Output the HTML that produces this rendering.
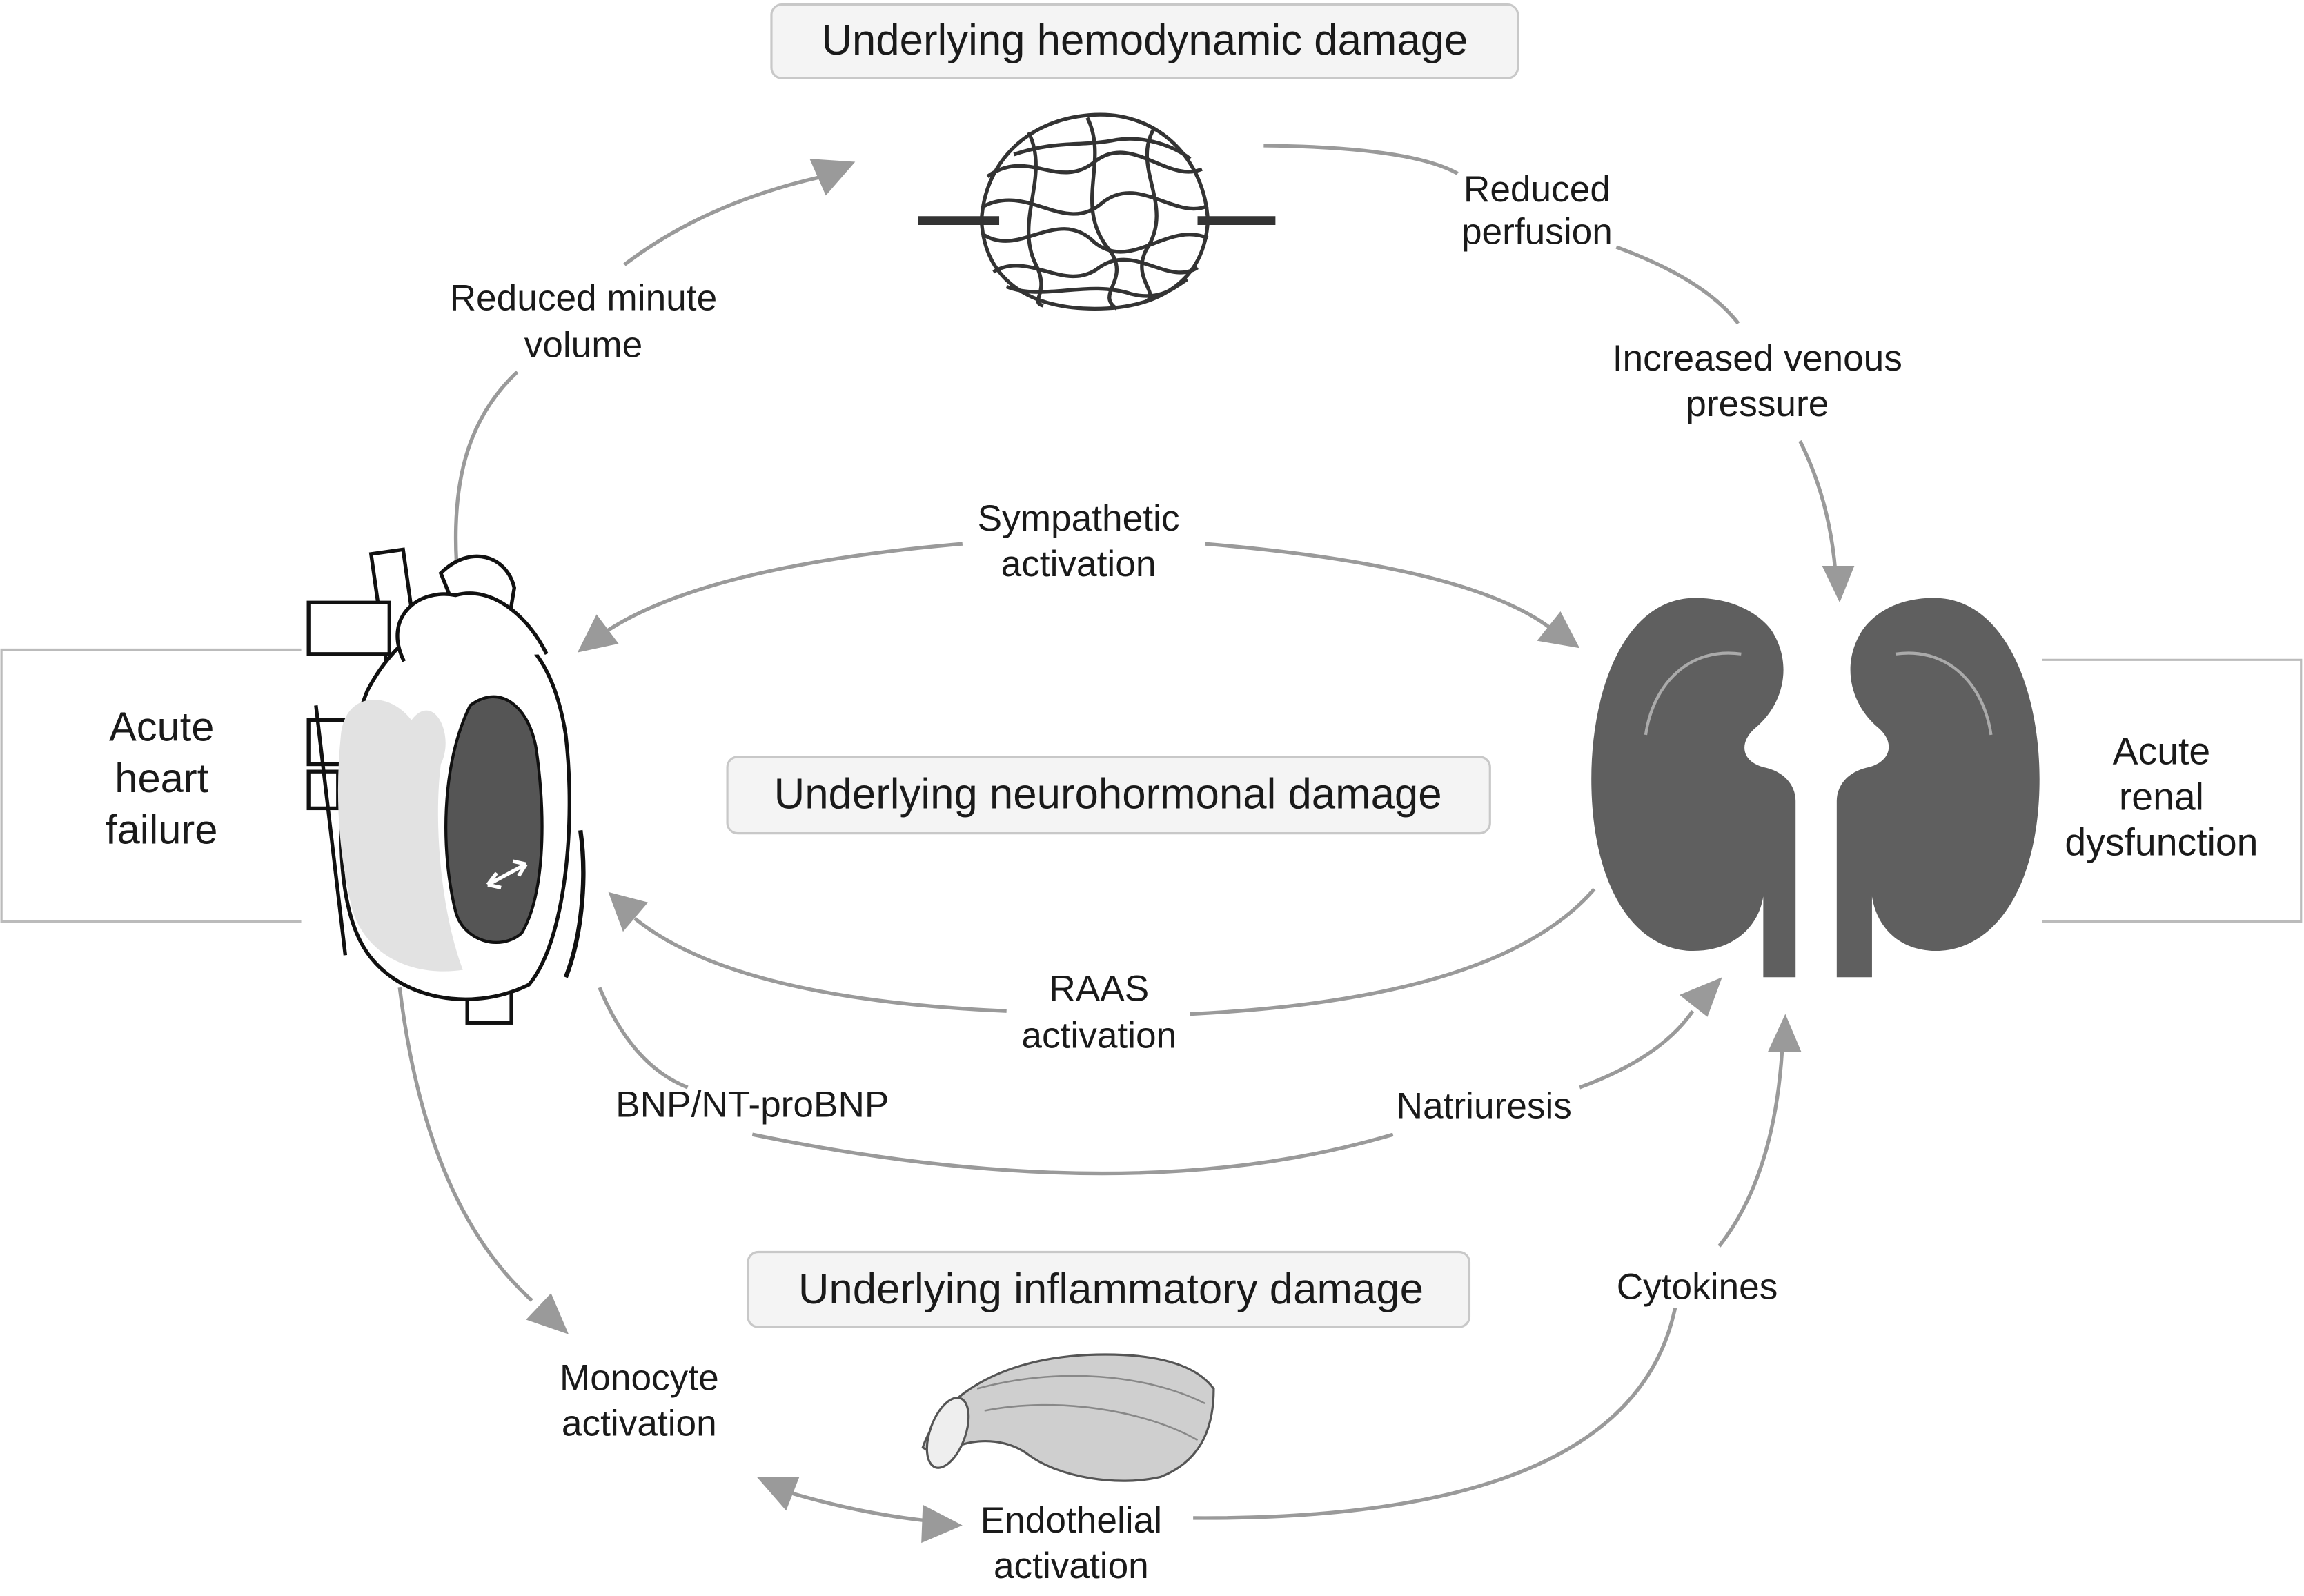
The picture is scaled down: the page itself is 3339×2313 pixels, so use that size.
<!DOCTYPE html>
<html><head><meta charset="utf-8"><style>
html,body{margin:0;padding:0;background:#fff;}
svg{display:block}
text{font-family:"Liberation Sans",sans-serif;fill:#1a1a1a}
</style></head><body>
<svg width="3339" height="2313" viewBox="0 0 1568 1086" xmlns="http://www.w3.org/2000/svg">
<rect width="1568" height="1086" fill="#fff"/>
<!-- boxes -->
<rect x="525" y="3" width="508" height="50" rx="7" fill="#f4f4f4" stroke="#c8c8c8" stroke-width="1.5"/>
<text x="779" y="37" font-size="29" text-anchor="middle">Underlying hemodynamic damage</text>
<rect x="495" y="515" width="519" height="52" rx="7" fill="#f4f4f4" stroke="#c8c8c8" stroke-width="1.5"/>
<text x="754" y="550" font-size="29" text-anchor="middle">Underlying neurohormonal damage</text>
<rect x="509" y="852" width="491" height="51" rx="7" fill="#f4f4f4" stroke="#c8c8c8" stroke-width="1.5"/>
<text x="756" y="887" font-size="29" text-anchor="middle">Underlying inflammatory damage</text>
<!-- brackets -->
<path d="M205,442 H1 V627 H205" fill="none" stroke="#bbb" stroke-width="1.5"/>
<text font-size="28" text-anchor="middle"><tspan x="110" y="504">Acute</tspan><tspan x="110" y="539">heart</tspan><tspan x="110" y="574">failure</tspan></text>
<path d="M1390,449 H1566 V627 H1390" fill="none" stroke="#bbb" stroke-width="1.5"/>
<text font-size="26" text-anchor="middle"><tspan x="1471" y="520">Acute</tspan><tspan x="1471" y="551">renal</tspan><tspan x="1471" y="582">dysfunction</tspan></text>
<!-- connectors -->
<g fill="none" stroke="#9a9a9a" stroke-width="2.5">
<path d="M312,400 C305,330 318,285 352,253"/>
<path d="M425,180 Q480,138 560,120"/>
<path d="M860,99 Q960,100 992,118"/>
<path d="M1100,168 Q1160,190 1183,220"/>
<path d="M1225,300 Q1245,340 1249,388"/>
<path d="M655,370 Q480,385 412,430"/>
<path d="M820,370 Q1000,385 1056,428"/>
<path d="M1085,605 Q1020,680 810,690"/>
<path d="M685,688 Q500,680 432,625"/>
<path d="M408,672 Q430,725 468,740"/>
<path d="M512,772 Q770,825 948,772"/>
<path d="M1075,740 Q1130,720 1152,688"/>
<path d="M272,672 Q290,820 362,885"/>
<path d="M535,1015 Q585,1030 632,1035"/>
<path d="M812,1033 Q1110,1035 1140,890"/>
<path d="M1170,848 Q1208,800 1213,712"/>
</g>
<g fill="#9a9a9a">
<polygon points="582,110 551,108 562,133"/>
<polygon points="1252,410 1240,385 1262,385"/>
<polygon points="393,444 406,418 421,438"/>
<polygon points="1075,441 1046,436 1062,416"/>
<polygon points="414,607 441,614 424,634"/>
<polygon points="1172,665 1162,692 1143,677"/>
<polygon points="387,908 358,898 375,880"/>
<polygon points="1215,690 1203,716 1226,716"/>
<polygon points="515,1005 544,1005 535,1028"/>
<polygon points="655,1038 628,1024 627,1050"/>
</g>
<!-- labels -->
<g font-size="25" text-anchor="middle">
<text><tspan x="397" y="211">Reduced minute</tspan><tspan x="397" y="243">volume</tspan></text>
<text><tspan x="1046" y="137">Reduced</tspan><tspan x="1046" y="166">perfusion</tspan></text>
<text><tspan x="1196" y="252">Increased venous</tspan><tspan x="1196" y="283">pressure</tspan></text>
<text><tspan x="734" y="361">Sympathetic</tspan><tspan x="734" y="392">activation</tspan></text>
<text><tspan x="748" y="681">RAAS</tspan><tspan x="748" y="713">activation</tspan></text>
<text x="512" y="760">BNP/NT-proBNP</text>
<text x="1010" y="761">Natriuresis</text>
<text x="1155" y="884">Cytokines</text>
<text><tspan x="435" y="946">Monocyte</tspan><tspan x="435" y="977">activation</tspan></text>
<text><tspan x="729" y="1043">Endothelial</tspan><tspan x="729" y="1074">activation</tspan></text>
</g>
<!-- glomerulus -->
<g fill="none" stroke="#333" stroke-width="2.5">
<path d="M625,150 H680 M815,150 H868" stroke-width="6"/>
<path d="M668,150 C670,110 700,80 745,78 C790,76 820,110 822,150 C820,190 790,210 745,210 C700,210 670,190 668,150Z"/>
<path d="M672,120 C700,100 720,130 745,110 C770,90 795,125 818,115"/>
<path d="M670,140 C700,125 725,160 750,138 C775,118 800,150 822,140"/>
<path d="M670,160 C695,175 720,140 745,165 C770,185 795,150 822,162"/>
<path d="M676,185 C700,170 725,200 748,182 C772,165 795,195 815,182"/>
<path d="M700,90 C715,120 690,150 705,180 C715,200 700,205 710,208"/>
<path d="M740,80 C755,110 730,140 755,170 C770,190 745,200 760,210"/>
<path d="M785,88 C770,115 800,140 780,170 C770,190 790,200 780,205"/>
<path d="M690,105 C720,95 735,100 760,95 C780,92 800,100 810,108"/>
<path d="M685,195 C710,205 740,190 770,200 C790,205 800,195 808,190"/>
</g>
<!-- vessel -->
<g>
<path d="M628,985 C640,950 680,925 740,922 C790,920 815,930 826,945 C826,975 815,995 790,1005 C760,1012 720,1005 700,990 C680,975 650,980 640,992 Z" fill="#cfcfcf" stroke="#555" stroke-width="1.5"/>
<ellipse cx="645" cy="975" rx="12" ry="25" fill="#eee" stroke="#555" stroke-width="1.5" transform="rotate(20 645 975)"/>
<path d="M665,945 C720,930 780,935 820,955 M670,960 C720,950 780,960 815,980" fill="none" stroke="#888" stroke-width="1.2"/>
</g>
<!-- kidneys -->
<g fill="#5f5f5f">
<path d="M1150,407 C1105,410 1083,470 1083,530 C1083,600 1110,645 1150,647 C1180,648 1197,630 1200,610 L1200,665 L1222,665 L1222,545 C1222,535 1215,525 1200,522 C1185,518 1183,505 1195,495 C1215,478 1220,450 1205,428 C1192,412 1170,406 1150,407Z"/>
<path d="M1320,407 C1365,410 1388,470 1388,530 C1388,600 1360,645 1320,647 C1292,648 1277,630 1274,610 L1274,665 L1250,665 L1250,545 C1250,535 1257,525 1272,522 C1287,518 1290,505 1278,495 C1258,478 1253,450 1268,428 C1280,412 1300,406 1320,407Z"/>
</g>
<path d="M1120,500 C1125,465 1150,440 1185,445" fill="none" stroke="#aaa" stroke-width="2"/>
<path d="M1355,500 C1350,465 1325,440 1290,445" fill="none" stroke="#aaa" stroke-width="2"/>
<!-- heart -->
<g stroke="#111" stroke-width="2.5" fill="#fff">
<rect x="258" y="375" width="22" height="80" transform="rotate(-8 269 415)"/>
<rect x="210" y="410" width="55" height="35"/>
<rect x="210" y="490" width="25" height="30"/>
<rect x="210" y="525" width="20" height="25"/>
<rect x="355" y="480" width="25" height="18"/>
<rect x="355" y="505" width="25" height="18"/>
<rect x="318" y="670" width="30" height="26"/>
<path d="M300,390 C320,370 345,378 350,400 L345,430 L320,440Z"/>
<path d="M250,470 C230,520 225,600 245,640 C265,680 320,690 360,670 C385,640 392,560 385,500 C378,455 360,430 330,420 C300,412 268,435 250,470Z"/>
<path d="M215,480 L235,650" />
<path d="M275,450 C260,420 285,400 310,405 C335,398 360,420 372,445"/>
</g>
<path d="M232,500 C235,470 265,470 280,490 C295,470 310,500 300,520 C295,560 300,620 315,660 C280,665 250,650 240,620 C230,580 228,540 232,500Z" fill="#e2e2e2"/>
<path d="M320,480 C340,465 360,480 365,510 C372,560 370,610 355,635 C340,648 315,640 310,620 C300,580 300,520 320,480Z" fill="#555" stroke="#111" stroke-width="2"/>
<path d="M332,602 L358,588 M332,602 l6,-8 M332,602 l9,2 M358,588 l-9,-2 M358,588 l-5,8" stroke="#fff" stroke-width="2.5" fill="none"/>
<path d="M395,565 C400,600 395,640 385,665" fill="none" stroke="#111" stroke-width="3"/>
</svg>
</body></html>
